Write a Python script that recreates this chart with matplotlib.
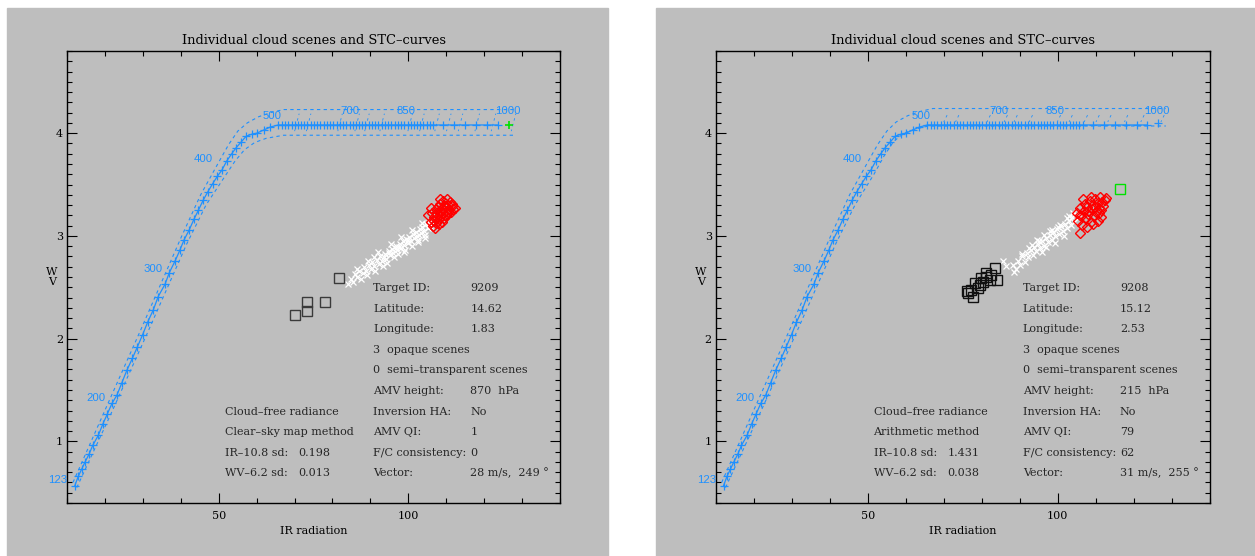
import matplotlib
matplotlib.use('Agg')
import matplotlib.pyplot as plt
from matplotlib.patches import Rectangle
from matplotlib.ticker import MultipleLocator

# STC curve (IR radiance vs WV radiance), same for both scenes
stc_x = [12.0, 12.9, 13.8, 14.7, 15.8, 16.7, 18.2, 19.4, 20.6, 21.8, 23.1, 24.4, 25.7, 27.2,
         28.5, 29.9, 31.2, 32.7, 34.0, 35.8, 36.9, 38.5, 39.7, 40.8, 42.2, 43.4, 44.6, 45.9,
         47.1, 48.4, 49.6, 50.8, 52.1, 53.4, 54.6, 55.8, 57.2, 58.7, 60.0, 61.8, 63.6, 65.7,
         66.6, 67.5, 68.3, 69.2, 70.0, 70.9, 71.7, 72.6, 73.4, 74.3, 75.1, 76.0, 76.8, 77.7,
         78.5, 79.4, 80.2, 81.1, 81.9, 82.8, 83.6, 84.5, 85.3, 86.2, 87.0, 87.9, 88.7, 89.6,
         90.4, 91.3, 92.1, 93.0, 93.8, 94.7, 95.5, 96.4, 97.2, 98.1, 98.9, 99.8, 100.6, 101.5,
         102.3, 103.2, 104.0, 104.9, 105.7, 106.6, 109.3, 112.2, 115.1, 118.0, 120.8, 123.6]
stc_y = [0.57, 0.66, 0.73, 0.80, 0.88, 0.96, 1.06, 1.17, 1.27, 1.37, 1.45, 1.57, 1.69, 1.81,
         1.92, 2.04, 2.16, 2.28, 2.41, 2.53, 2.64, 2.76, 2.86, 2.96, 3.06, 3.16, 3.25, 3.35,
         3.43, 3.51, 3.58, 3.64, 3.73, 3.80, 3.86, 3.91, 3.97, 3.99, 4.00, 4.03, 4.06, 4.08,
         4.08, 4.08, 4.08, 4.08, 4.08, 4.08, 4.08, 4.08, 4.08, 4.08, 4.08, 4.08, 4.08, 4.08,
         4.08, 4.08, 4.08, 4.08, 4.08, 4.08, 4.08, 4.08, 4.08, 4.08, 4.08, 4.08, 4.08, 4.08,
         4.08, 4.08, 4.08, 4.08, 4.08, 4.08, 4.08, 4.08, 4.08, 4.08, 4.08, 4.08, 4.08, 4.08,
         4.08, 4.08, 4.08, 4.08, 4.08, 4.08, 4.08, 4.08, 4.08, 4.08, 4.08, 4.08]
end_x = 126.5
end_y = 4.08

# dashed uncertainty bounds of the STC curve
upper_x_l = [11.5, 19.9, 29.2, 40.1, 45.2, 50.0, 52.6, 55.0, 57.5, 60.5, 63.6, 67.1, 128.5]
upper_y_l = [0.60, 1.30, 2.07, 2.99, 3.40, 3.72, 3.89, 4.02, 4.10, 4.16, 4.20, 4.23, 4.23]
lower_x_l = [12.5, 21.3, 30.6, 41.5, 46.6, 51.6, 54.3, 56.8, 59.5, 62.5, 67.1, 128.5]
lower_y_l = [0.55, 1.25, 2.01, 2.92, 3.30, 3.58, 3.73, 3.84, 3.91, 3.95, 3.98, 3.98]
upper_x_r = [11.5, 19.9, 29.2, 40.1, 45.2, 50.0, 52.6, 55.0, 57.5, 60.5, 63.6, 67.1, 128.5]
upper_y_r = [0.60, 1.30, 2.07, 2.99, 3.40, 3.72, 3.89, 4.02, 4.11, 4.17, 4.21, 4.24, 4.24]
lower_x_r = [12.5, 21.3, 30.6, 41.5, 46.6, 51.6, 54.3, 56.8, 59.5, 62.5, 66.0, 128.5]
lower_y_r = [0.55, 1.25, 2.01, 2.92, 3.30, 3.60, 3.78, 3.92, 4.00, 4.04, 4.07, 4.07]
# short dashes crossing the band on the plateau
cross_x = [70.6, 73.7, 82.0, 86.5, 89.1, 93.1, 100.5, 103.6, 107.6, 110.7, 113.8, 118.2, 122.5, 127.8]

# pressure level labels along the curve
level_labels = ['123', '200', '300', '400', '500', '700', '850', '1000']
level_x = [10.0, 17.6, 32.7, 45.9, 64.1, 84.6, 99.3, 126.2]
level_y = [0.62, 1.42, 2.68, 3.75, 4.17, 4.22, 4.22, 4.22]

# scene 9209 (left)
white_x_l = [84.2, 84.8, 85.5, 85.9, 86.6, 87.1, 87.4, 88.0, 88.3, 88.9, 89.2, 89.6, 90.1, 90.5,
             90.9, 91.3, 91.8, 92.2, 92.6, 93.0, 93.3, 93.8, 94.1, 94.5, 94.9, 95.2, 95.6, 96.0,
             96.3, 96.7, 97.0, 97.4, 97.8, 98.1, 98.5, 98.8, 99.2, 99.5, 99.9, 100.2, 100.6,
             100.9, 101.3, 101.6, 102.0, 102.3, 102.7, 103.0, 103.4, 103.7, 104.1, 104.4, 104.8,
             105.1, 105.5, 103.5, 101.0, 98.0, 95.5, 92.0, 89.5, 86.5, 104.5, 99.0, 102.5,
             91.0, 93.5, 96.8, 100.0, 97.6, 94.8, 102.9, 105.8]
white_y_l = [2.53, 2.58, 2.55, 2.63, 2.60, 2.66, 2.58, 2.64, 2.70, 2.66, 2.62, 2.72, 2.68, 2.75,
             2.71, 2.66, 2.77, 2.73, 2.80, 2.76, 2.71, 2.82, 2.78, 2.74, 2.85, 2.81, 2.87, 2.83,
             2.79, 2.90, 2.86, 2.82, 2.92, 2.88, 2.95, 2.91, 2.86, 2.97, 2.93, 2.99, 2.95,
             2.90, 3.02, 2.98, 3.04, 3.00, 2.96, 3.07, 3.03, 3.09, 3.05, 3.01, 3.12,
             3.08, 3.14, 3.13, 3.06, 2.99, 2.92, 2.84, 2.76, 2.68, 2.98, 2.84, 2.94,
             2.79, 2.79, 2.88, 2.96, 2.89, 2.83, 3.01, 3.10]
red_x_l = [105.2, 105.9, 106.3, 106.6, 106.9, 107.2, 107.4, 107.7, 107.9, 108.1, 108.3, 108.5,
           108.7, 108.9, 109.1, 109.3, 109.5, 109.7, 109.9, 110.1, 110.3, 110.5, 110.8, 111.0,
           111.3, 111.6, 111.9, 112.3, 107.0, 108.0, 109.0, 110.0, 106.0, 108.4,
           107.5, 108.6, 109.6, 110.6, 106.8, 111.5]
red_y_l = [3.20, 3.14, 3.22, 3.10, 3.18, 3.26, 3.13, 3.21, 3.28, 3.16, 3.24, 3.31,
           3.19, 3.27, 3.22, 3.34, 3.17, 3.29, 3.24, 3.36, 3.21, 3.30, 3.26, 3.33,
           3.23, 3.29, 3.26, 3.27, 3.08, 3.12, 3.14, 3.19, 3.27, 3.36,
           3.17, 3.23, 3.20, 3.23, 3.15, 3.31]
square_x_l = [81.6, 70.2, 73.4, 73.4, 78.0]
square_y_l = [2.59, 2.23, 2.36, 2.27, 2.36]

# scene 9208 (right)
white_x_r = [83.0, 85.6, 86.5, 88.6, 88.2, 89.0, 89.6, 90.2, 90.7, 91.3, 91.8, 92.3, 92.9, 93.4,
             93.9, 94.4, 94.9, 95.4, 95.9, 96.4, 96.9, 97.4, 97.9, 98.4, 98.9, 99.4, 99.9,
             100.4, 100.9, 101.4, 101.9, 102.4, 102.9, 103.4, 103.9, 104.4, 104.9, 105.3,
             90.5, 92.5, 94.5, 96.5, 98.5, 100.5, 102.5, 104.0, 95.8, 99.2, 101.8, 97.0,
             93.2, 98.0, 103.0, 100.0, 95.0]
white_y_r = [2.62, 2.76, 2.71, 2.65, 2.72, 2.68, 2.76, 2.72, 2.80, 2.75, 2.83, 2.79, 2.86, 2.81,
             2.89, 2.85, 2.92, 2.88, 2.95, 2.90, 2.98, 2.94, 3.01, 2.96, 3.04, 3.00, 3.07,
             3.02, 3.10, 3.05, 3.12, 3.08, 3.15, 3.11, 3.18, 3.14, 3.21, 3.17,
             2.82, 2.88, 2.96, 3.01, 3.06, 3.11, 3.17, 3.22, 2.84, 2.93, 3.00, 2.89,
             2.91, 3.05, 3.19, 3.09, 2.95]
red_x_r = [105.0, 105.4, 105.9, 106.2, 106.5, 106.9, 107.2, 107.5, 107.8, 108.1, 108.4, 108.7,
           109.0, 109.3, 109.6, 109.9, 110.2, 110.5, 110.8, 111.1, 111.4, 111.7, 112.0, 112.4,
           112.8, 105.8, 107.6, 109.4, 111.3, 106.8, 108.9, 110.6, 108.0, 109.8, 106.0, 111.0]
red_y_r = [3.22, 3.15, 3.27, 3.19, 3.11, 3.24, 3.31, 3.17, 3.28, 3.21, 3.34, 3.14,
           3.26, 3.30, 3.19, 3.36, 3.23, 3.32, 3.27, 3.38, 3.25, 3.33, 3.29, 3.35,
           3.37, 3.03, 3.09, 3.12, 3.18, 3.36, 3.38, 3.15, 3.24, 3.28, 3.20, 3.22]
square_x_r = [83.4, 81.2, 83.9, 82.1, 79.9, 79.5, 78.2, 77.3, 76.0, 77.7, 76.4, 80.3, 81.2, 82.5, 78.9]
square_y_r = [2.69, 2.64, 2.57, 2.57, 2.59, 2.52, 2.54, 2.47, 2.46, 2.41, 2.44, 2.55, 2.60, 2.62, 2.49]
green_x_r = 116.3
green_y_r = 3.46

# info text
info_labels = ['Target ID:', 'Latitude:', 'Longitude:', '3  opaque scenes',
               '0  semi\u2013transparent scenes', 'AMV height:', 'Inversion HA:',
               'AMV QI:', 'F/C consistency:', 'Vector:']
info_values_l = ['9209', '14.62', '1.83', '', '', '870  hPa', 'No', '1', '0',
                 '28 m/s,  249 \u00b0']
info_values_r = ['9208', '15.12', '2.53', '', '', '215  hPa', 'No', '79', '62',
                 '31 m/s,  255 \u00b0']
cf_labels = ['Cloud\u2013free radiance', 'Clear\u2013sky map method', 'IR\u201310.8 sd:', 'WV\u20136.2 sd:']
cf_labels_r = ['Cloud\u2013free radiance', 'Arithmetic method', 'IR\u201310.8 sd:', 'WV\u20136.2 sd:']
cf_values_l = ['', '', '0.198', '0.013']
cf_values_r = ['', '', '1.431', '0.038']

GRAY = '#bebebe'
BLUE = '#1e90ff'
TXT = '#262626'
plt.rcParams['font.family'] = ['DejaVu Serif']


def draw_panel(ax, upper, lower, white, red, squares, sq_color, values, cf_lab, cf_val, lo, hi):
    ax.set_facecolor(GRAY)
    ax.plot(upper[0], upper[1], color=BLUE, lw=0.8, ls=(0, (3, 3)))
    ax.plot(lower[0], lower[1], color=BLUE, lw=0.8, ls=(0, (3, 3)))
    for x in cross_x:
        ax.plot([x - 0.6, x + 0.6], [lo + 0.04, hi - 0.04], color=BLUE, lw=0.6,
                ls=(1, (3, 4)))
    ax.plot(stc_x, stc_y, color=BLUE, lw=0.9, marker='+', ms=6, mew=0.9)
    for lab, x, y in zip(level_labels, level_x, level_y):
        ha = 'right' if lab == '123' else 'center'
        ax.text(x, y, lab, color=BLUE, fontsize=8.2, family='Liberation Sans',
                ha=ha, va='center', clip_on=False)
    ax.plot(white[0], white[1], ls='none', marker='x', ms=4.5, mew=0.9, color='white')
    ax.plot(red[0], red[1], ls='none', marker='D', ms=5, mew=1.0, mfc='none', mec='red')
    ax.plot(squares[0], squares[1], ls='none', marker='s', ms=7, mew=1.0, mfc='none', mec=sq_color)

    for i, lab in enumerate(info_labels):
        y = 2.49 - 0.2 * i
        ax.text(90.8, y, lab, fontsize=8, color=TXT, va='center')
        ax.text(116.4, y, values[i], fontsize=8, color=TXT, va='center')
    for i, lab in enumerate(cf_lab):
        y = 2.49 - 0.2 * (i + 6)
        ax.text(51.5, y, lab, fontsize=8, color=TXT, va='center')
        ax.text(71.0, y, cf_val[i], fontsize=8, color=TXT, va='center')

    ax.set_xlim(10, 140)
    ax.set_ylim(0.4, 4.8)
    ax.xaxis.set_major_locator(MultipleLocator(50))
    ax.xaxis.set_minor_locator(MultipleLocator(10))
    ax.yaxis.set_major_locator(MultipleLocator(1))
    ax.yaxis.set_minor_locator(MultipleLocator(0.1))
    ax.tick_params(which='both', direction='in', top=True, right=True, width=0.8,
                   labelsize=8, colors='black')
    ax.tick_params(which='major', length=7)
    ax.tick_params(which='minor', length=3.5)
    ax.tick_params(axis='x', pad=6)
    ax.tick_params(axis='y', pad=3)
    for s in ax.spines.values():
        s.set_linewidth(1.0)
    ax.set_title('Individual cloud scenes and STC\u2013curves', fontsize=9.4, pad=5)
    ax.set_xlabel('IR radiation', fontsize=8, labelpad=3)
    ax.set_ylabel('W\nV', fontsize=8, rotation=0, va='center', linespacing=1.1)
    ax.yaxis.set_label_coords(-0.031, 0.5)


fig = plt.figure(figsize=(12.55, 5.56), dpi=100)
fig.patches.append(Rectangle((7 / 1255, 0), 601 / 1255, 548 / 556, transform=fig.transFigure,
                             color=GRAY, zorder=-10))
fig.patches.append(Rectangle((656 / 1255, 0), 599 / 1255, 548 / 556, transform=fig.transFigure,
                             color=GRAY, zorder=-10))

ax1 = fig.add_axes([67.3 / 1255, 53 / 556, 492.5 / 1255, 452 / 556])
ax2 = fig.add_axes([716 / 1255, 53 / 556, 493.5 / 1255, 452 / 556])

draw_panel(ax1, (upper_x_l, upper_y_l), (lower_x_l, lower_y_l), (white_x_l, white_y_l),
           (red_x_l, red_y_l), (square_x_l, square_y_l), '#3a3a3a',
           info_values_l, cf_labels, cf_values_l, lower_y_l[-1], upper_y_l[-1])
ax1.plot([end_x], [end_y], ls='none', marker='+', ms=6, mew=1.2, color='#00e000')

draw_panel(ax2, (upper_x_r, upper_y_r), (lower_x_r, lower_y_r), (white_x_r, white_y_r),
           (red_x_r, red_y_r), (square_x_r, square_y_r), '#111111',
           info_values_r, cf_labels_r, cf_values_r, lower_y_r[-1], upper_y_r[-1])
ax2.plot([end_x], [end_y + 0.02], ls='none', marker='+', ms=6, mew=0.9, color=BLUE)
ax2.plot([green_x_r], [green_y_r], ls='none', marker='s', ms=7, mew=1.0, mfc='none', mec='#00e000')

fig.savefig('out.png', dpi=100)
